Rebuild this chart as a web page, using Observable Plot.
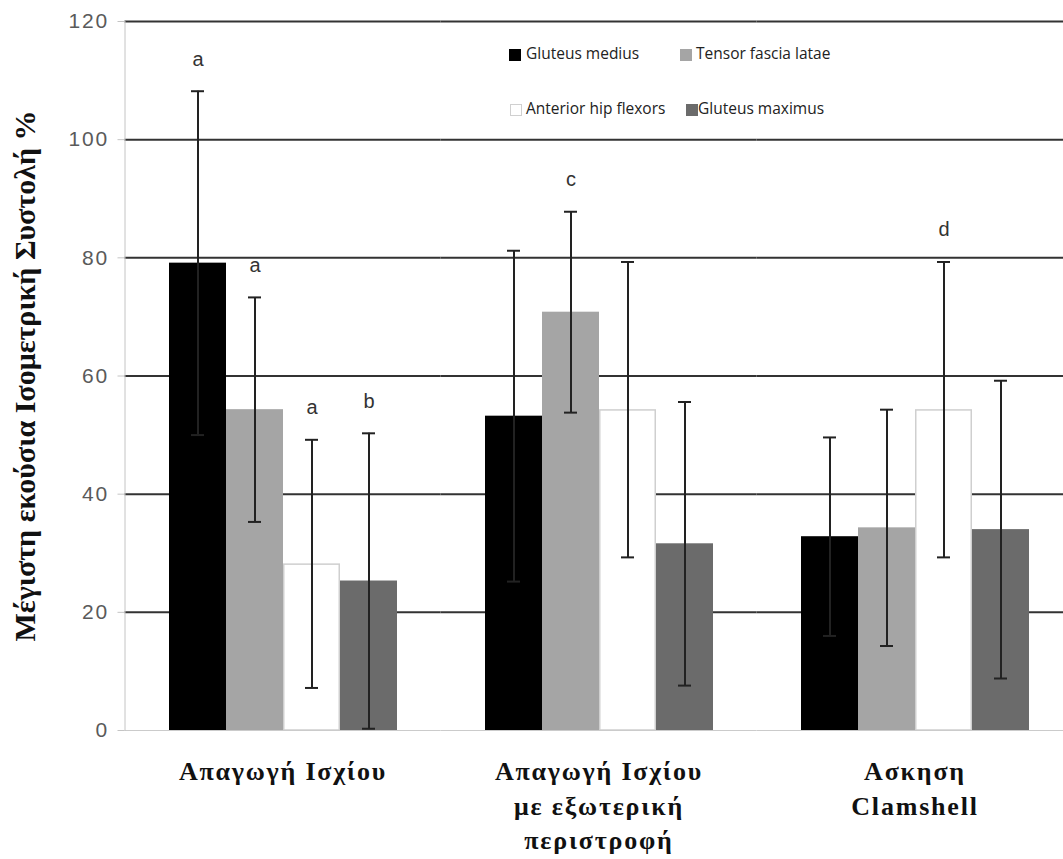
<!DOCTYPE html>
<html>
<head>
<meta charset="utf-8">
<script src="https://cdn.jsdelivr.net/npm/d3@7"></script>
<script src="https://cdn.jsdelivr.net/npm/@observablehq/plot@0.6"></script>
<style>
  html, body { margin: 0; padding: 0; background: #fff; overflow: hidden; }
  #wrap { position: relative; width: 1063px; height: 859px; overflow: hidden; }
  #chart svg { display: block; max-width: none !important; height: 859px !important; }
  #ytitle {
    position: absolute; left: 25px; top: 376px;
    transform: translate(-50%, -50%) rotate(-90deg);
    white-space: nowrap; font-family: "Liberation Serif", serif; font-weight: bold;
    font-size: 30px; color: #111;
  }
  .leg { position: absolute; font-family: "Open Sans", sans-serif; font-size: 15.5px; color: #222; white-space: nowrap; line-height: 1; }
  .sw { position: absolute; width: 12px; height: 12px; box-sizing: border-box; }
  g[aria-label="fx-axis tick label"] text { letter-spacing: 1.8px; }
  g[aria-label="y-axis tick label"] text { letter-spacing: 1.8px; }
</style>
</head>
<body>
<div id="wrap">
  <div id="chart"></div>
  <div id="ytitle"></div>
  <div id="legend"></div>
</div>
<script>
// ---- data ----
const groups = ["Απαγωγή Ισχίου", "Απαγωγή Ισχίου\nμε εξωτερική\nπεριστροφή", "Ασκηση\nClamshell"];
const muscles = ["Gluteus medius", "Tensor fascia latae", "Anterior hip flexors", "Gluteus maximus"];
const gluteusMedius = [79.1, 53.2, 32.8];
const tensorFasciaLatae = [54.3, 70.8, 34.3];
const anteriorHipFlexors = [28.2, 54.3, 54.3];
const gluteusMaximus = [25.3, 31.6, 34.0];
const gluteusMediusSD = [29.1, 28.0, 16.8];
const tensorFasciaLataeSD = [19.0, 17.0, 20.0];
const anteriorHipFlexorsSD = [21.0, 25.0, 25.0];
const gluteusMaximusSD = [25.0, 24.0, 25.2];
const gluteusMediusLetter = ["a", "", ""];
const tensorFasciaLataeLetter = ["a", "c", ""];
const anteriorHipFlexorsLetter = ["a", "", "d"];
const gluteusMaximusLetter = ["b", "", ""];
const yTicks = [0, 20, 40, 60, 80, 100, 120];
const yTitle = "Μέγιστη εκούσια Ισομετρική Συστολή %";

const muscleColors = ["#000000", "#a5a5a5", "#ffffff", "#6b6b6b"];

const values = [gluteusMedius, tensorFasciaLatae, anteriorHipFlexors, gluteusMaximus];
const sds = [gluteusMediusSD, tensorFasciaLataeSD, anteriorHipFlexorsSD, gluteusMaximusSD];
const letters = [gluteusMediusLetter, tensorFasciaLataeLetter, anteriorHipFlexorsLetter, gluteusMaximusLetter];

const rows = groups.flatMap((g, i) => muscles.map((m, j) => ({
  group: g, muscle: m, value: values[j][i], sd: sds[j][i], letter: letters[j][i]
})));

const ext = 42.5; // half gap between groups (px)

const chart = Plot.plot({
  width: 1072,
  height: 859,
  marginLeft: 124,
  marginRight: 0,
  marginTop: 21,
  marginBottom: 129,
  style: { background: "transparent", overflow: "visible" },
  fx: { domain: groups, paddingInner: 0.26899, paddingOuter: 0.134495, label: null, axis: null },
  x: { domain: muscles, padding: 0, axis: null },
  y: { domain: [0, 120], axis: null },
  color: { domain: muscles, range: muscleColors },
  marks: [
    Plot.ruleY(yTicks.filter(t => t > 0), { stroke: "#333", strokeWidth: 2, insetLeft: -ext, insetRight: -ext }),
    Plot.barY(rows, { fx: "group", x: "muscle", y: "value", fill: "muscle" }),
    Plot.barY(rows, { filter: d => d.muscle === muscles[2], fx: "group", x: "muscle", y: "value", fill: "#fff", stroke: "#cfcfcf", strokeWidth: 1.5, insetLeft: 0.75, insetRight: 0.75, insetTop: 0.75 }),
    Plot.ruleY([0], { stroke: "#cbcbcb", strokeWidth: 1.2, insetLeft: -ext, insetRight: -ext }),
    Plot.ruleX(rows, { fx: "group", x: "muscle", y1: d => d.value - d.sd, y2: d => d.value + d.sd, stroke: "#222", strokeWidth: 2 }),
    Plot.tickY(rows, { fx: "group", x: "muscle", y: d => d.value + d.sd, stroke: "#222", strokeWidth: 2, insetLeft: 22, insetRight: 22 }),
    Plot.tickY(rows, { fx: "group", x: "muscle", y: d => d.value - d.sd, stroke: "#222", strokeWidth: 2, insetLeft: 22, insetRight: 22 }),
    Plot.text(rows.filter(d => d.letter), { fx: "group", x: "muscle", y: d => d.value + d.sd, text: "letter", dy: -32, fontSize: 20, fontFamily: "Liberation Sans, Arial, sans-serif", fill: "#333" }),
    Plot.axisY({ ticks: yTicks, tickSize: 7, tickPadding: 9, dx: -ext, label: null, stroke: "#c4c4c4", fill: "#5a5a5a", fontSize: 21, fontFamily: "Liberation Sans, Arial, sans-serif" }),
    Plot.frame({ anchor: "left", insetLeft: -ext, stroke: "#c4c4c4", facetAnchor: "left" }),
    Plot.axisFx({ anchor: "bottom", label: null, tickSize: 0, tickPadding: 25, lineHeight: 1.33, fontSize: 26, fontWeight: "bold", fontFamily: "Liberation Serif, serif", fill: "#111" })
  ]
});
document.getElementById("chart").appendChild(chart);
document.getElementById("ytitle").textContent = yTitle;

// legend (inside plot area)
const legendPos = [
  { sx: 509, tx: 526, y: 55 },
  { sx: 680, tx: 696, y: 55 },
  { sx: 510, tx: 526, y: 110 },
  { sx: 686, tx: 698, y: 110 }
];
const legend = document.getElementById("legend");
muscles.forEach((m, i) => {
  const p = legendPos[i];
  const sw = document.createElement("div");
  sw.className = "sw";
  sw.style.left = p.sx + "px";
  sw.style.top = (p.y - 6) + "px";
  sw.style.background = muscleColors[i];
  if (i === 2) sw.style.border = "1px solid #d0d0d0";
  legend.appendChild(sw);
  const t = document.createElement("div");
  t.className = "leg";
  t.style.left = p.tx + "px";
  t.style.top = (p.y - 9) + "px";
  t.textContent = m;
  legend.appendChild(t);
});
</script>
</body>
</html>
